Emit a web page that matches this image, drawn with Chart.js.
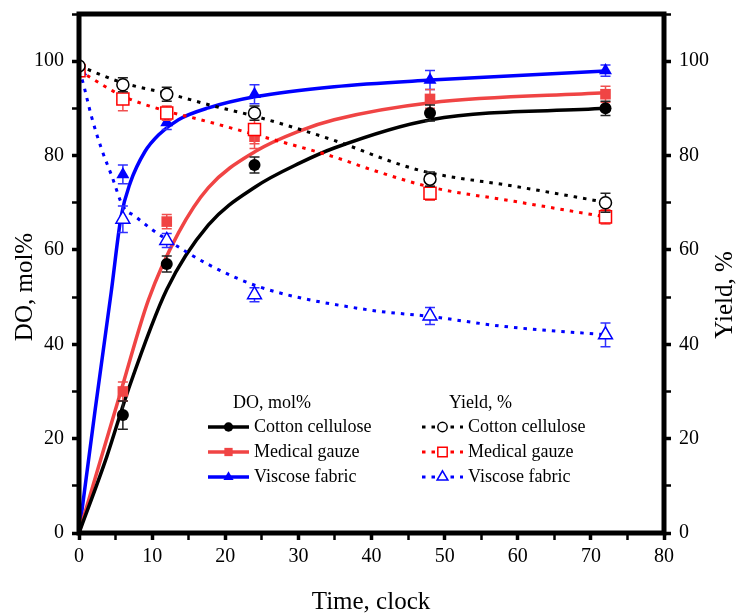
<!DOCTYPE html>
<html>
<head>
<meta charset="utf-8">
<script src="https://cdn.jsdelivr.net/npm/chart.js@4.4.1/dist/chart.umd.min.js"></script>
<style>
  html, body { margin: 0; padding: 0; background: #fff; }
  #wrap { width: 738px; height: 615px; }
</style>
</head>
<body>
<div id="wrap"><canvas id="chart" width="738" height="615"></canvas></div>
<script>
// measured points (DO)
const timeDO = [6, 12, 24, 48, 72];
const doCotton = [25, 57, 78, 89, 90];
const doCottonErr = [3, 1.7, 1.7, 1.7, 1.5];
const doGauze = [30, 66, 84, 92, 93];
const doGauzeErr = [2, 1.5, 2.5, 2, 1.7];
const doViscose = [76, 87, 93, 96, 98];
const doViscoseErr = [2, 1.5, 2, 2, 1.2];

// measured points (yield)
const timeYield = [0, 6, 12, 24, 48, 72];
const yieldCotton = [99, 95, 93, 89, 75, 70];
const yieldCottonErr = [0, 1.5, 1.5, 1.5, 1.5, 2];
const yieldGauze = [98, 92, 89, 85.5, 72, 67];
const yieldGauzeErr = [0, 2.5, 1.5, 3, 1.5, 1.5];
const yieldViscose = [98, 66.5, 62, 50.5, 46, 42];
const yieldViscoseErr = [0, 2.8, 1.5, 1.5, 1.8, 2.5];

// fitted curves
const fitCottonT = [0, 3.8, 6.75, 12, 17.7, 24.15, 30.3, 34.9, 48.1, 72];
const fitCottonDO = [0, 16.2, 30.4, 51.6, 65.3, 73.4, 78.5, 81.6, 87.6, 90];
const fitGauzeT = [0, 5.8, 9.5, 13.6, 17.7, 24.15, 30.3, 34.9, 48.1, 72];
const fitGauzeDO = [0, 30.4, 49.4, 63.6, 73.2, 80.9, 85.3, 87.6, 91.2, 93.3];
const fitViscoseT = [0, 2.2, 4.4, 5.75, 7, 9, 10.9, 13.6, 17.7, 24.2, 34.9, 48.1, 72];
const fitViscoseDO = [0, 26, 51, 67, 74.2, 80.8, 84.4, 87.6, 90.1, 92.5, 94.6, 96, 97.9];

const fitYCottonT = [0, 6, 12, 18.4, 24.15, 34.9, 43.9, 48.1, 59.5, 72];
const fitYCotton = [99, 95.4, 93.2, 90.5, 88.3, 83.2, 78.1, 76.3, 73.5, 70.1];
const fitYGauzeT = [0, 6, 12, 16.6, 24.15, 34.9, 40, 48.1, 59.5, 72];
const fitYGauze = [98, 92.6, 89.4, 87.6, 84.4, 79.7, 77, 73.3, 70.3, 67];
const fitYViscoseT = [0, 0.45, 1.7, 3.1, 4.5, 6, 7.7, 10, 12, 17.7, 25, 39.5, 48, 58, 72];
const fitYViscose = [98, 96, 88.3, 81.3, 75.6, 69.3, 67.1, 64.3, 62.2, 56.9, 52, 47.3, 45.9, 43.8, 42];

const serif = "'Liberation Serif', 'Times New Roman', serif";
const xy = (xs, ys) => xs.map((x, i) => ({ x, y: ys[i] }));

const pts = (label, xs, ys, errs, style, r, fill, stroke, bw, errColor) => ({
  label, data: xy(xs, ys), errors: errs, errColor,
  showLine: false, pointStyle: style, pointRadius: r, pointHoverRadius: r,
  pointBackgroundColor: fill, pointBorderColor: stroke, pointBorderWidth: bw
});
const fit = (xs, ys, color, dash) => ({
  data: xy(xs, ys), showLine: true, pointRadius: 0, borderColor: color,
  borderWidth: dash ? 3 : 3.5, borderDash: dash || [], borderCapStyle: 'butt',
  cubicInterpolationMode: 'monotone', fill: false
});

const RED = '#f04444', BLUE = '#0000ff';

const datasets = [
  pts('Cotton cellulose', timeYield, yieldCotton, yieldCottonErr, 'circle', 6, '#fff', '#000', 1.5, '#222'),
  pts('Medical gauze', timeYield, yieldGauze, yieldGauzeErr, 'rect', 8.5, '#fff', '#ff0000', 1.5, '#f05050'),
  pts('Viscose fabric', timeYield, yieldViscose, yieldViscoseErr, 'triangle', 8, '#fff', BLUE, 1.5, '#3030ff'),
  pts('Cotton cellulose', timeDO, doCotton, doCottonErr, 'circle', 6, '#000', '#000', 0, '#222'),
  pts('Medical gauze', timeDO, doGauze, doGauzeErr, 'rect', 7.5, RED, RED, 0, '#f05050'),
  pts('Viscose fabric', timeDO, doViscose, doViscoseErr, 'triangle', 7.5, BLUE, BLUE, 0, '#3030ff'),
  fit(fitYCottonT, fitYCotton, '#000', [3.5, 6]),
  fit(fitYGauzeT, fitYGauze, '#ff0000', [3.5, 6]),
  fit(fitYViscoseT, fitYViscose, BLUE, [3.5, 6]),
  fit(fitCottonT, fitCottonDO, '#000'),
  fit(fitGauzeT, fitGauzeDO, RED),
  fit(fitViscoseT, fitViscoseDO, BLUE)
];

const legendGroups = [
  { title: 'DO, mol%', titleX: 233, lineX: 208, items: [[3, 9], [4, 10], [5, 11]] },
  { title: 'Yield, %', titleX: 449, lineX: 422, items: [[0, 6], [1, 7], [2, 8]] }
];

const extras = {
  id: 'extras',
  beforeDatasetDraw(chart, args) {
    const ds = chart.data.datasets[args.index];
    if (!ds.errors) return;
    const ctx = chart.ctx, xs = chart.scales.x, ys = chart.scales.y;
    ctx.save();
    ctx.strokeStyle = ds.errColor;
    ctx.lineWidth = 1.5;
    ds.data.forEach((p, i) => {
      const e = ds.errors[i];
      if (!e) return;
      const px = xs.getPixelForValue(p.x);
      const top = ys.getPixelForValue(p.y + e), bot = ys.getPixelForValue(p.y - e);
      ctx.beginPath();
      ctx.moveTo(px, top); ctx.lineTo(px, bot);
      ctx.moveTo(px - 5, top); ctx.lineTo(px + 5, top);
      ctx.moveTo(px - 5, bot); ctx.lineTo(px + 5, bot);
      ctx.stroke();
    });
    ctx.restore();
  },
  afterDatasetsDraw(chart) {
    const ctx = chart.ctx, a = chart.chartArea;
    ctx.save();
    // frame
    ctx.strokeStyle = '#000';
    ctx.lineWidth = 5;
    ctx.strokeRect(a.left, a.top, a.right - a.left, a.bottom - a.top);

    // axis titles
    ctx.fillStyle = '#000';
    ctx.font = '25px ' + serif;
    ctx.textAlign = 'center';
    ctx.textBaseline = 'middle';
    ctx.fillText('Time, clock', 371, 602);
    [['DO, mol%', 25, 287], ['Yield, %', 725, 295]].forEach(([t, x, y]) => {
      ctx.save();
      ctx.translate(x, y);
      ctx.rotate(-Math.PI / 2);
      ctx.fillText(t, 0, 0);
      ctx.restore();
    });

    // legend
    const rowsY = [427, 452, 477];
    ctx.font = '18px ' + serif;
    ctx.textAlign = 'left';
    legendGroups.forEach(g => {
      ctx.fillStyle = '#000';
      ctx.fillText(g.title, g.titleX, 403);
      g.items.forEach(([pi, li], k) => {
        const p = chart.data.datasets[pi], l = chart.data.datasets[li];
        const y = rowsY[k];
        ctx.strokeStyle = l.borderColor;
        ctx.lineWidth = l.borderWidth;
        ctx.setLineDash(l.borderDash);
        ctx.beginPath();
        ctx.moveTo(g.lineX, y); ctx.lineTo(g.lineX + 41, y);
        ctx.stroke();
        ctx.setLineDash([]);
        ctx.fillStyle = p.pointBackgroundColor;
        ctx.strokeStyle = p.pointBorderColor;
        ctx.lineWidth = p.pointBorderWidth;
        Chart.helpers.drawPoint(ctx, {
          pointStyle: p.pointStyle, radius: p.pointRadius * 0.78, rotation: 0,
          borderWidth: p.pointBorderWidth
        }, g.lineX + 20.5, y);
        ctx.fillStyle = '#000';
        ctx.fillText(p.label, g.lineX + 46, y);
      });
    });
    ctx.restore();
  }
};

const tickGrid = major => ({
  drawOnChartArea: false, drawTicks: true, tickLength: 7, tickColor: '#000',
  tickWidth: c => (c.tick && major(c.tick.value) ? 3.5 : 2.5)
});
const yAxis = (pos, w) => ({
  type: 'linear', position: pos, min: 0, max: 110,
  border: { display: false },
  grid: tickGrid(v => v % 20 === 0),
  afterFit: s => { s.width = w; s.paddingTop = 0; s.paddingBottom = 0; },
  ticks: {
    stepSize: 10, autoSkip: false, color: '#000', padding: 8,
    font: { family: serif, size: 20 },
    callback: v => (v % 20 === 0 && v <= 100 ? v : '')
  }
});

new Chart(document.getElementById('chart'), {
  type: 'scatter',
  data: { datasets },
  options: {
    responsive: false,
    animation: false,
    events: [],
    layout: { padding: { top: 14, left: 0, right: 0, bottom: 0 } },
    plugins: { legend: { display: false }, tooltip: { enabled: false } },
    scales: {
      x: {
        type: 'linear', position: 'bottom', min: 0, max: 80,
        border: { display: false },
        grid: tickGrid(v => v % 10 === 0),
        afterFit: s => { s.height = 82; s.paddingLeft = 0; s.paddingRight = 0; },
        ticks: {
          stepSize: 5, autoSkip: false, color: '#000', padding: 5, maxRotation: 0,
          font: { family: serif, size: 20 },
          callback: v => (v % 10 === 0 ? v : '')
        }
      },
      y: yAxis('left', 79),
      y2: yAxis('right', 74)
    }
  },
  plugins: [extras]
});
</script>
</body>
</html>
